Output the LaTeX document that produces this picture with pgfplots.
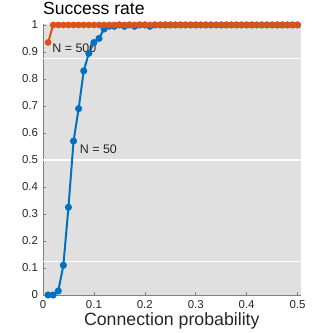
\documentclass[border=0pt]{standalone}
\usepackage{fontspec}
\setmainfont{Liberation Sans}
\usepackage{pgfplots}
\pgfplotsset{compat=1.18}
\definecolor{mblue}{RGB}{0,114,189}
\definecolor{morange}{RGB}{217,83,25}
\definecolor{bg}{RGB}{224,224,224}
\definecolor{axgray}{RGB}{128,128,128}
\definecolor{txt}{RGB}{38,38,38}
\begin{document}
\begin{tikzpicture}
\begin{axis}[
    scale only axis,
    width=257.6bp, height=271.4bp,
    xmin=0, xmax=0.506, ymin=0, ymax=1.005,
    clip=false,
    axis background/.style={fill=bg},
    axis x line*=bottom, axis y line*=left,
    axis line style={axgray, line width=0.6bp},
    tick align=inside, major tick length=3bp,
    tick style={axgray, line width=0.6bp},
    xtick={0,0.1,0.2,0.3,0.4,0.5},
    ytick={0,0.1,0.2,0.3,0.4,0.5,0.6,0.7,0.8,0.9,1},
    /pgf/number format/.cd, fixed, precision=1, assume math mode=true, /pgfplots/.cd,
    tick label style={font=\fontsize{11.5}{12}\selectfont, text=txt},
    yticklabel style={xshift=-1.5bp},
    xticklabel style={yshift=-1.5bp},
    xlabel={Connection probability},
    xlabel style={font=\fontsize{17.8}{19}\selectfont, text=txt, at={(0.5,0)}, anchor=north, yshift=-14bp},
    title={Success rate},
    title style={font=\fontsize{17.6}{18}\selectfont, text=black, at={(0,1)}, anchor=base west, yshift=3bp, inner sep=0pt},
]
% white reference lines
\addplot[white, line width=1.3bp, forget plot] coordinates {(0,0.125) (0.506,0.125)};
\addplot[white, line width=1.3bp, forget plot] coordinates {(0,0.5) (0.506,0.5)};
\addplot[white, line width=1.3bp, forget plot] coordinates {(0,0.875) (0.506,0.875)};
% N = 50
\addplot[mblue, line width=2bp, mark=*, mark size=2.5bp] coordinates {
(0.01,0) (0.02,0) (0.03,0.015) (0.04,0.11) (0.05,0.325) (0.06,0.57) (0.07,0.69)
(0.08,0.83) (0.09,0.895) (0.10,0.935) (0.11,0.95) (0.12,0.985) (0.13,0.995)
(0.14,0.995) (0.15,1) (0.16,0.995) (0.17,1) (0.18,0.995) (0.19,1) (0.20,1)
(0.21,0.995) (0.22,1) (0.23,1) (0.24,1) (0.25,1) (0.26,1) (0.27,1) (0.28,1)
(0.29,1) (0.30,1) (0.31,1) (0.32,1) (0.33,1) (0.34,1) (0.35,1) (0.36,1)
(0.37,1) (0.38,1) (0.39,1) (0.40,1) (0.41,1) (0.42,1) (0.43,1) (0.44,1)
(0.45,1) (0.46,1) (0.47,1) (0.48,1) (0.49,1) (0.50,1)};
% N = 500
\addplot[morange, line width=2bp, mark=*, mark size=2.3bp] coordinates {
(0.01,0.935) (0.02,1) (0.03,1) (0.04,1) (0.05,1) (0.06,1) (0.07,1) (0.08,1)
(0.09,1) (0.10,1) (0.11,1) (0.12,1) (0.13,1) (0.14,1) (0.15,1) (0.16,1)
(0.17,1) (0.18,1) (0.19,1) (0.20,1) (0.21,1) (0.22,1) (0.23,1) (0.24,1)
(0.25,1) (0.26,1) (0.27,1) (0.28,1) (0.29,1) (0.30,1) (0.31,1) (0.32,1)
(0.33,1) (0.34,1) (0.35,1) (0.36,1) (0.37,1) (0.38,1) (0.39,1) (0.40,1)
(0.41,1) (0.42,1) (0.43,1) (0.44,1) (0.45,1) (0.46,1) (0.47,1) (0.48,1)
(0.49,1) (0.50,1)};
\node[anchor=west, inner sep=0pt, font=\fontsize{12.5}{14}\selectfont, text=txt] at (axis cs:0.018,0.915) {N = 500};
\node[anchor=west, inner sep=0pt, font=\fontsize{12.5}{14}\selectfont, text=txt] at (axis cs:0.072,0.54) {N = 50};
\end{axis}
\pgfresetboundingbox
\path[use as bounding box] (-43bp,-38bp) rectangle (289bp,295bp);
\end{tikzpicture}
\end{document}
